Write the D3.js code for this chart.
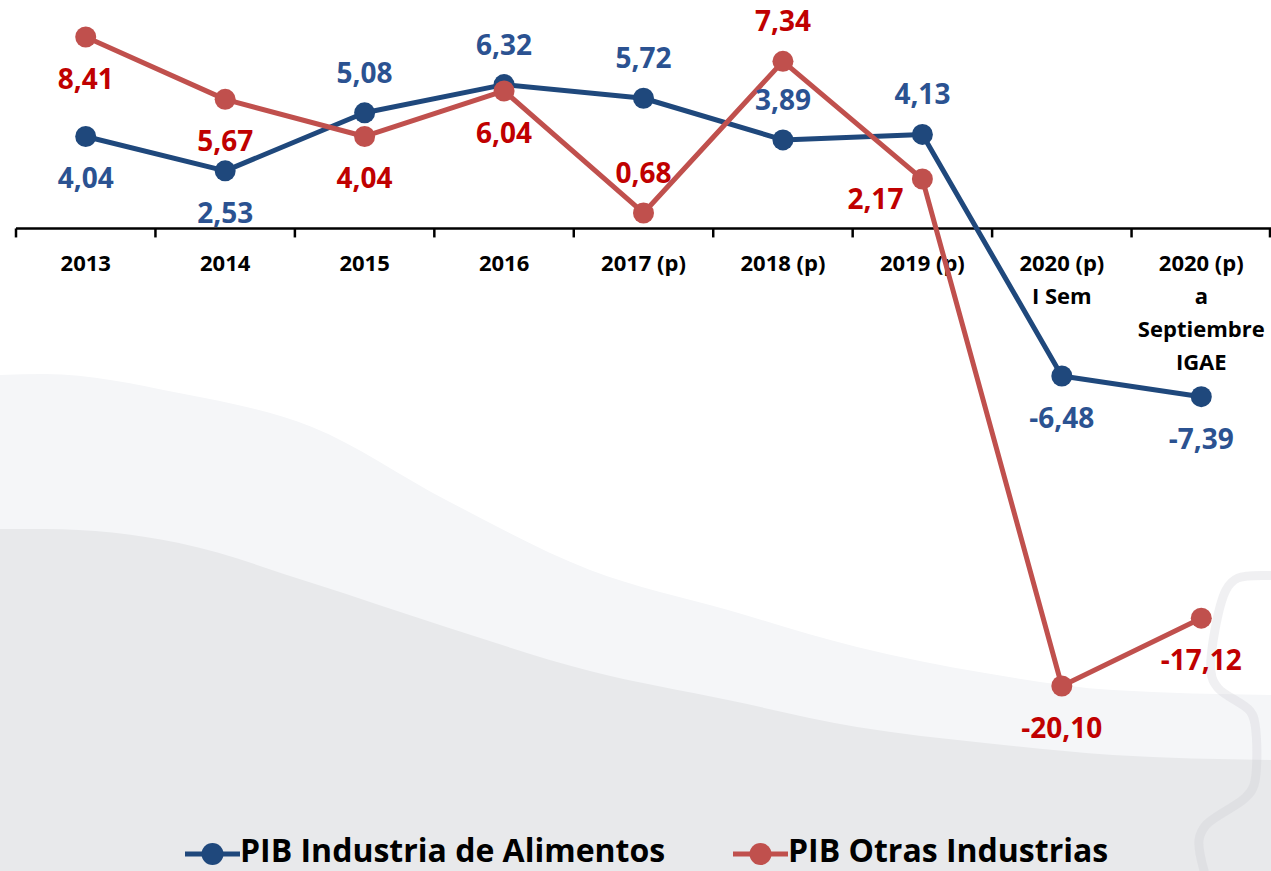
<!DOCTYPE html>
<html>
<head>
<meta charset="utf-8">
<script src="https://cdn.jsdelivr.net/npm/d3@7"></script>
<style>
  html, body { margin: 0; padding: 0; background: #ffffff; }
  svg { display: block; font-family: "Open Sans", "DejaVu Sans", sans-serif; }
</style>
</head>
<body>
<svg id="chart" width="1271" height="871"></svg>
<script>
// ---- data ----
const categories = ["2013", "2014", "2015", "2016", "2017 (p)", "2018 (p)", "2019 (p)", "2020 (p)\nI Sem", "2020 (p)\na\nSeptiembre\nIGAE"];
const alimentos = [4.04, 2.53, 5.08, 6.32, 5.72, 3.89, 4.13, -6.48, -7.39];
const otras = [8.41, 5.67, 4.04, 6.04, 0.68, 7.34, 2.17, -20.10, -17.12];
const seriesNames = ["PIB Industria de Alimentos", "PIB Otras Industrias"];
// label placement per point (b = below, a = above, l = left)
const alimentosLabelPos = ["b", "b", "a", "a", "a", "a", "a", "b", "b"];
const otrasLabelPos = ["b", "b", "b", "b", "a", "a", "l", "b", "b"];

const W = 1271, H = 871;
const svg = d3.select("#chart");

// ---- background decoration ----
const bgCurve = d3.line().curve(d3.curveMonotoneX);
const lightTop = [[0,375],[45,374],[179,393],[312,427],[446,500],[590,570],[728,610],[857,647],[985,673],[1113,690],[1271,695]];
const darkTop = [[0,529],[45,529],[179,543],[312,583],[446,627],[590,671],[728,700],[857,727],[985,743],[1113,755],[1271,760]];
svg.append("path")
  .attr("d", bgCurve(lightTop) + `L${W},${H}L0,${H}Z`)
  .attr("fill", "#f5f6f8");
svg.append("path")
  .attr("d", bgCurve(darkTop) + `L${W},${H}L0,${H}Z`)
  .attr("fill", "#e8e9eb");
const outline = [[1280,576],[1238,578],[1226,590],[1211,672],[1218,688],[1250,711],[1255,724],[1254,785],[1245,798],[1206,825],[1199,840],[1206,878]];
svg.append("path")
  .attr("d", d3.line().curve(d3.curveCatmullRom.alpha(0.5))(outline))
  .attr("fill", "none")
  .attr("stroke", "rgb(200,202,208)")
  .attr("stroke-width", 9)
  .attr("stroke-opacity", 0.28)
  .attr("stroke-linejoin", "round");

// ---- scales ----
const x = d3.scaleBand().domain(categories).range([16, 1271]).paddingInner(0).paddingOuter(0);
const y = d3.scaleLinear().domain([-20.10, 8.41]).range([686, 37]);
const cx = c => x(c) + x.bandwidth() / 2;

// ---- x axis ----
const y0 = y(0);
const axisG = svg.append("g");
axisG.append("line")
  .attr("x1", 16).attr("x2", 1271).attr("y1", y0).attr("y2", y0)
  .attr("stroke", "#000").attr("stroke-width", 2.5);
const tickXs = categories.map(c => x(c)).concat([1270]);
axisG.selectAll("line.tick").data(tickXs).join("line")
  .attr("class", "tick")
  .attr("x1", d => d).attr("x2", d => d)
  .attr("y1", y0).attr("y2", y0 + 9)
  .attr("stroke", "#000").attr("stroke-width", 2.5);
const tl = axisG.selectAll("text.cat").data(categories).join("text")
  .attr("class", "cat")
  .attr("x", d => cx(d))
  .attr("y", y0 + 43)
  .attr("text-anchor", "middle")
  .attr("font-size", 22)
  .attr("font-weight", 700)
  .attr("fill", "#000");
tl.each(function(d) {
  const lines = d.split("\n");
  d3.select(this).selectAll("tspan").data(lines).join("tspan")
    .attr("x", cx(d))
    .attr("dy", (l, i) => i === 0 ? 0 : 33)
    .text(l => l);
});

// ---- lines ----
const blue = "#1F487C", red = "#C0504D";
const blueText = "#2B5291", redText = "#C00000";
const line = d3.line().x((d, i) => cx(categories[i])).y(d => y(d));

function drawSeries(vals, color) {
  svg.append("path").datum(vals)
    .attr("d", line)
    .attr("fill", "none")
    .attr("stroke", color)
    .attr("stroke-width", 5)
    .attr("stroke-linejoin", "round");
  svg.append("g").selectAll("circle").data(vals).join("circle")
    .attr("cx", (d, i) => cx(categories[i]))
    .attr("cy", d => y(d))
    .attr("r", 10.5)
    .attr("fill", color);
}
drawSeries(alimentos, blue);
drawSeries(otras, red);

// ---- data labels ----
const locale = d3.formatLocale({ decimal: ",", thousands: ".", grouping: [3], currency: ["", ""], minus: "-" });
const fmt = locale.format(".2f");
function drawLabels(vals, pos, color) {
  svg.append("g").selectAll("text").data(vals).join("text")
    .attr("x", (d, i) => pos[i] === "l" ? cx(categories[i]) - 47 : cx(categories[i]))
    .attr("y", (d, i) => {
      const py = y(d);
      if (pos[i] === "a") return py - 30;
      if (pos[i] === "l") return py + 30;
      return py + 52;
    })
    .attr("text-anchor", "middle")
    .attr("font-size", 28)
    .attr("font-weight", 700)
    .attr("fill", color)
    .text(d => fmt(d));
}
drawLabels(alimentos, alimentosLabelPos, blueText);
drawLabels(otras, otrasLabelPos, redText);

// ---- legend ----
const legendItems = [
  { name: seriesNames[0], color: blue, x0: 185 },
  { name: seriesNames[1], color: red, x0: 733 }
];
const lg = svg.append("g");
legendItems.forEach(it => {
  const ly = 854;
  lg.append("line")
    .attr("x1", it.x0).attr("x2", it.x0 + 55)
    .attr("y1", ly).attr("y2", ly)
    .attr("stroke", it.color).attr("stroke-width", 5);
  lg.append("circle")
    .attr("cx", it.x0 + 27.5).attr("cy", ly).attr("r", 11)
    .attr("fill", it.color);
  lg.append("text")
    .attr("x", it.x0 + 55)
    .attr("y", 862)
    .attr("font-size", 32)
    .attr("font-weight", 700)
    .attr("fill", "#000")
    .text(it.name);
});
</script>
</body>
</html>
